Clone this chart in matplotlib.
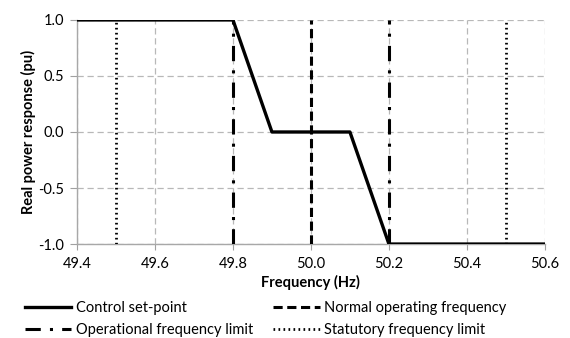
import matplotlib
matplotlib.use('Agg')
import matplotlib.pyplot as plt

# Control set-point curve
freq = [49.4, 49.8, 49.9, 50.1, 50.2, 50.6]
power = [1.0, 1.0, 0.0, 0.0, -1.0, -1.0]

# Reference frequencies
normal_freq = [50.0]
operational_limits = [49.8, 50.2]
statutory_limits = [49.5, 50.5]

x_ticks = [49.4, 49.6, 49.8, 50.0, 50.2, 50.4, 50.6]
y_ticks = [-1.0, -0.5, 0.0, 0.5, 1.0]

plt.rcParams['font.family'] = ['Lato', 'DejaVu Sans']

fig = plt.figure(figsize=(5.7, 3.38), dpi=100)
ax = fig.add_axes([0.135, 0.278, 0.821, 0.663])

ax.plot(freq, power, color='black', lw=2.4, label='Control set-point', zorder=5)

for i, f in enumerate(normal_freq):
    ax.axvline(f, color='black', lw=2.2, ls=(0, (3, 1.5)),
               label='Normal operating frequency' if i == 0 else None, zorder=4)
for i, f in enumerate(operational_limits):
    ax.axvline(f, color='black', lw=2.2, ls=(0, (5, 3, 1, 3)),
               label='Operational frequency limit' if i == 0 else None, zorder=4)
for i, f in enumerate(statutory_limits):
    ax.axvline(f, color='black', lw=2.0, ls=(0, (0.6, 1.2)),
               label='Statutory frequency limit' if i == 0 else None, zorder=4)

ax.set_xlim(49.4, 50.6)
ax.set_ylim(-1.0, 1.0)
ax.set_xticks(x_ticks)
ax.set_yticks(y_ticks)
ax.set_xticklabels([f'{v:.1f}' for v in x_ticks])
ax.set_yticklabels([f'{v:.1f}' for v in y_ticks])
ax.tick_params(labelsize=10.5, length=4, color='#a0a0a0', direction='out', pad=5)
ax.tick_params(axis='y', length=5, pad=4)

ax.grid(True, color='#b8b8b8', ls=(0, (5, 3)), lw=0.9)
for side in ['top', 'right']:
    ax.spines[side].set_visible(False)
for side in ['left', 'bottom']:
    ax.spines[side].set_color('#a8a8a8')
    ax.spines[side].set_linewidth(1.0)

ax.set_xlabel('Frequency (Hz)', fontsize=10.5, fontweight='bold', labelpad=3)
ax.set_ylabel('Real power response (pu)', fontsize=10.5, fontweight='bold', labelpad=2)

# legend fills column-wise: put control/operational in first column
handles, labels = ax.get_legend_handles_labels()
order = [0, 2, 1, 3]
fig.legend([handles[i] for i in order], [labels[i] for i in order],
           loc='lower left', bbox_to_anchor=(0.02, -0.035), ncol=2, frameon=False,
           fontsize=10.5, handlelength=3.2, handletextpad=0.3,
           columnspacing=1.4, labelspacing=0.5)

fig.savefig('out.png', dpi=100)
